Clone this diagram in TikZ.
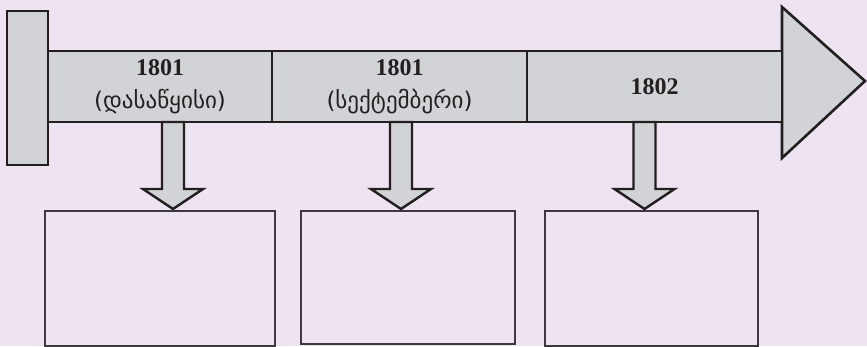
\documentclass[tikz,border=0pt]{standalone}
\usepackage{fontspec}
\setmainfont{Liberation Serif}
\newfontfamily\geo{DejaVu Sans}
\usetikzlibrary{calc}
\definecolor{bg}{RGB}{237,227,241}
\definecolor{bandgray}{RGB}{210,211,214}
\definecolor{ink}{RGB}{35,31,32}
\definecolor{boxline}{RGB}{60,56,62}
\newcommand{\yearlab}[2]{{\bfseries\fontsize{24}{24}\selectfont #1}\\[12pt]{\geo\fontsize{23}{23}\selectfont #2}}
\newcommand{\dnarrow}[3]{%
  \draw[darr] ($(#1|-#2.south)+(-11,0)$) -- ($(#1|-#3.north)+(-11,-22)$) -- ++(-19,0)
    -- ($(#1|-#3.north)+(0,-2)$) -- ($(#1|-#3.north)+(30,-22)$) -- ++(-19,0)
    -- ($(#1|-#2.south)+(11,0)$) -- cycle;}
\begin{document}
\begin{tikzpicture}[x=1pt,y=-1pt,
  seg/.style={draw=ink,line width=2.6pt,fill=bandgray,minimum height=71pt,inner sep=0pt,outer sep=0pt,align=center,text=ink},
  darr/.style={draw=ink,line width=2.4pt,fill=bandgray,line join=miter},
  box/.style={draw=boxline,line width=1.2pt,inner sep=0pt,outer sep=0pt}]
\fill[bg] (0,0) rectangle (867,346);
\useasboundingbox (0,0) rectangle (867,346);
% arrow head of the time line
\draw[seg] (782,7) -- (865,81) -- (782,158) -- cycle;
% segments
\node[seg,minimum width=224pt] (seg1) at (160,86.5) {\yearlab{1801}{(დასაწყისი)}};
\node[seg,minimum width=255pt] (seg2) at (399.5,86.5) {\yearlab{1801}{(სექტემბერი)}};
\node[seg,minimum width=255pt] (seg3) at (654.5,86.5) {{\bfseries\fontsize{24}{24}\selectfont 1802}};
% left bar
\node[seg,minimum width=41pt,minimum height=154pt] (bar) at (27.5,88) {};
% boxes
\node[box,minimum width=230pt,minimum height=135pt] (box1) at (160,278.5) {};
\node[box,minimum width=214pt,minimum height=133pt] (box2) at (408,277.5) {};
\node[box,minimum width=213pt,minimum height=135pt] (box3) at (651.5,278.5) {};
% arrow positions
\coordinate (a1) at (173,0);
\coordinate (a2) at (401,0);
\coordinate (a3) at (644.5,0);
\dnarrow{a1}{seg1}{box1}
\dnarrow{a2}{seg2}{box2}
\dnarrow{a3}{seg3}{box3}
\end{tikzpicture}
\end{document}
